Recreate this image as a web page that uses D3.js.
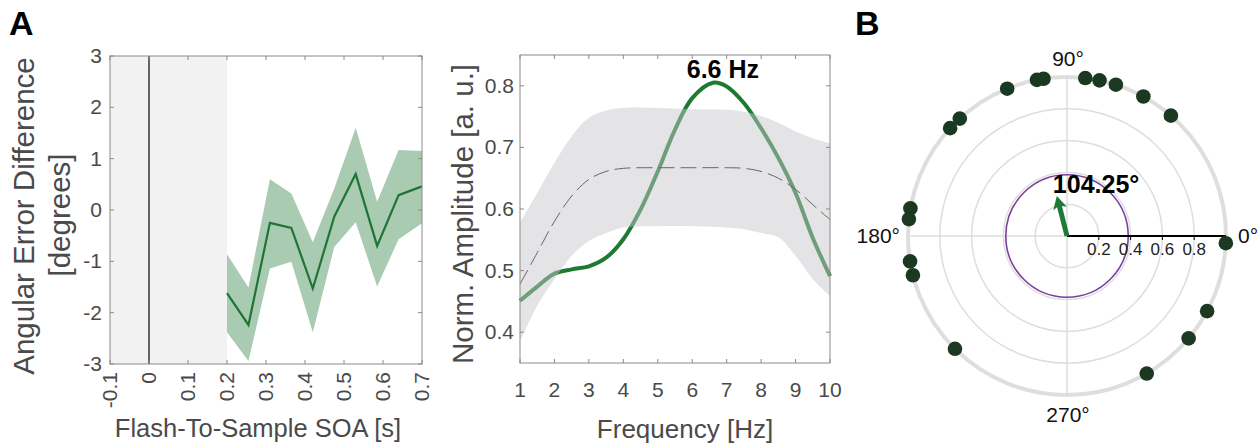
<!DOCTYPE html>
<html>
<head>
<meta charset="utf-8">
<script src="https://cdn.jsdelivr.net/npm/d3@7"></script>
<style>
  body { margin: 0; background: #fff; }
  svg { font-family: "Liberation Sans", Arial, sans-serif; }
</style>
</head>
<body>
<div id="chartContainer"></div>
<script>
// ---- panel A left: angular error difference by SOA
var soa = [0.2, 0.255, 0.31, 0.365, 0.42, 0.475, 0.53, 0.585, 0.64, 0.7];
var errMean = [-1.62, -2.24, -0.25, -0.35, -1.53, -0.13, 0.70, -0.70, 0.29, 0.46];
var errUpper = [-0.86, -1.51, 0.60, 0.32, -0.63, 0.42, 1.60, 0.16, 1.17, 1.15];
var errLower = [-2.38, -2.94, -1.14, -1.01, -2.38, -0.72, -0.24, -1.49, -0.57, -0.26];
var soaTicks = [-0.1, 0, 0.1, 0.2, 0.3, 0.4, 0.5, 0.6, 0.7];
var errTicks = [-3, -2, -1, 0, 1, 2, 3];

// ---- panel A right: amplitude spectrum
var freq = [1, 1.5, 2, 2.5, 3, 3.5, 4, 4.5, 5, 5.5, 6, 6.6, 7, 7.5, 8, 8.5, 9, 9.5, 10];
var ampData = [0.451, 0.474, 0.495, 0.502, 0.507, 0.521, 0.551, 0.599, 0.661, 0.729, 0.780, 0.805, 0.799, 0.772, 0.731, 0.683, 0.626, 0.553, 0.491];
var surrFreq = [1, 1.5, 2, 2.5, 3, 3.5, 4, 5, 6, 7, 7.5, 8, 8.5, 9, 9.5, 10];
var surrMean = [0.478, 0.529, 0.580, 0.621, 0.648, 0.661, 0.666, 0.667, 0.667, 0.667, 0.666, 0.661, 0.650, 0.632, 0.607, 0.583];
var surrUpper = [0.578, 0.626, 0.675, 0.718, 0.748, 0.760, 0.764, 0.764, 0.762, 0.761, 0.758, 0.751, 0.740, 0.726, 0.715, 0.707];
var surrLower = [0.385, 0.443, 0.486, 0.524, 0.548, 0.561, 0.570, 0.572, 0.572, 0.570, 0.567, 0.561, 0.554, 0.524, 0.486, 0.459];
var freqTicks = [1, 2, 3, 4, 5, 6, 7, 8, 9, 10];
var ampTicks = [0.4, 0.5, 0.6, 0.7, 0.8];
var peakFreq = 6.6;

// ---- panel B: phases
var phaseDeg = [49.2, 61.3, 72.1, 78.2, 83.4, 98.5, 100.9, 112.1, 132.4, 137.3, 170, 173.9, 189.2, 194.3, 225.2, 300.1, 319.9, 331.8, 357.4];
var meanPhase = 104.25;
var meanLength = 0.26;
var critRadius = 0.385;
var rTicks = [0.2, 0.4, 0.6, 0.8];
var ringTicks = [0.2, 0.4, 0.6, 0.8, 1.0];
var angleLabels = [0, 90, 180, 270];

var w = 1258, h = 448;
var textGray = "#4a4a4a";
var frameGray = "#8a8a8a";

var svg = d3.select("#chartContainer").append("svg")
    .attr("width", w)
    .attr("height", h);

// panel letters
svg.append("text").attr("x", 9).attr("y", 35).text("A")
    .attr("font-size", "34px").attr("font-weight", "bold").attr("fill", "#000");
svg.append("text").attr("x", 855).attr("y", 35).text("B")
    .attr("font-size", "34px").attr("font-weight", "bold").attr("fill", "#000");

// draws a MATLAB style box with inward ticks on all four sides
function drawBox(g, x, y, xt, yt) {
    var x0 = x.range()[0], x1 = x.range()[1];
    var y0 = y.range()[0], y1 = y.range()[1];
    g.append("rect")
        .attr("x", x0).attr("y", y1)
        .attr("width", x1 - x0).attr("height", y0 - y1)
        .attr("fill", "none").attr("stroke", frameGray).attr("stroke-width", 1);
    xt.forEach(function (t) {
        g.append("line").attr("x1", x(t)).attr("x2", x(t)).attr("y1", y0).attr("y2", y0 - 4)
            .attr("stroke", frameGray);
        g.append("line").attr("x1", x(t)).attr("x2", x(t)).attr("y1", y1).attr("y2", y1 + 4)
            .attr("stroke", frameGray);
    });
    yt.forEach(function (t) {
        g.append("line").attr("x1", x0).attr("x2", x0 + 4).attr("y1", y(t)).attr("y2", y(t))
            .attr("stroke", frameGray);
        g.append("line").attr("x1", x1).attr("x2", x1 - 4).attr("y1", y(t)).attr("y2", y(t))
            .attr("stroke", frameGray);
    });
}

// ================= Panel A left =================
var xA = d3.scaleLinear().domain([-0.1, 0.7]).range([110, 422]);
var yA = d3.scaleLinear().domain([-3, 3]).range([364, 56]);
var gA = svg.append("g");

// baseline (pre-flash) shading
gA.append("rect")
    .attr("x", xA(-0.1)).attr("y", yA(3))
    .attr("width", xA(0.2) - xA(-0.1)).attr("height", yA(-3) - yA(3))
    .attr("fill", "#f2f2f2");
gA.append("line")
    .attr("x1", xA(0)).attr("x2", xA(0)).attr("y1", yA(3)).attr("y2", yA(-3))
    .attr("stroke", "#000").attr("stroke-width", 1.2);

var errRows = soa.map(function (s, i) {
    return { x: s, m: errMean[i], lo: errLower[i], hi: errUpper[i] };
});
gA.append("path")
    .datum(errRows)
    .attr("fill", "#a9cbb2")
    .attr("d", d3.area()
        .x(function (d) { return xA(d.x); })
        .y0(function (d) { return yA(d.lo); })
        .y1(function (d) { return yA(d.hi); }));
gA.append("path")
    .datum(errRows)
    .attr("fill", "none")
    .attr("stroke", "#1f7535")
    .attr("stroke-width", 2.2)
    .attr("d", d3.line()
        .x(function (d) { return xA(d.x); })
        .y(function (d) { return yA(d.m); }));

drawBox(gA, xA, yA, soaTicks, errTicks);

gA.selectAll(".ylab").data(errTicks).enter().append("text")
    .attr("x", 102).attr("y", function (d) { return yA(d) + 7; })
    .attr("text-anchor", "end")
    .attr("font-size", "21px").attr("fill", textGray)
    .text(function (d) { return d; });
gA.selectAll(".xlab").data(soaTicks).enter().append("text")
    .attr("transform", function (d) { return "translate(" + (xA(d) + 7) + ",372) rotate(-90)"; })
    .attr("text-anchor", "end")
    .attr("font-size", "21px").attr("fill", textGray)
    .text(function (d) { return d; });

gA.append("text")
    .attr("x", 258).attr("y", 437)
    .attr("text-anchor", "middle")
    .attr("font-size", "25.5px").attr("fill", textGray)
    .text("Flash-To-Sample SOA [s]");
gA.append("text")
    .attr("transform", "translate(34,216) rotate(-90)")
    .attr("text-anchor", "middle")
    .attr("font-size", "29.5px").attr("fill", textGray)
    .text("Angular Error Difference");
gA.append("text")
    .attr("transform", "translate(70,215) rotate(-90)")
    .attr("text-anchor", "middle")
    .attr("font-size", "29.5px").attr("fill", textGray)
    .text("[degrees]");

// ================= Panel A right =================
var xF = d3.scaleLinear().domain([1, 10]).range([520, 830]);
var yF = d3.scaleLinear().domain([0.35, 0.85]).range([363, 55]);
var gF = svg.append("g");

var ampRows = freq.map(function (f, i) { return { f: f, a: ampData[i] }; });
var surrRows = surrFreq.map(function (f, i) {
    return { f: f, m: surrMean[i], lo: surrLower[i], hi: surrUpper[i] };
});

// data curve first, surrogate band drawn over it semi transparent
gF.append("path")
    .datum(ampRows)
    .attr("fill", "none")
    .attr("stroke", "#1d7a33")
    .attr("stroke-width", 4)
    .attr("d", d3.line().curve(d3.curveCatmullRom)
        .x(function (d) { return xF(d.f); })
        .y(function (d) { return yF(d.a); }));
gF.append("path")
    .datum(surrRows)
    .attr("fill", "#c6c7ca")
    .attr("fill-opacity", 0.48)
    .attr("d", d3.area().curve(d3.curveCatmullRom)
        .x(function (d) { return xF(d.f); })
        .y0(function (d) { return yF(d.lo); })
        .y1(function (d) { return yF(d.hi); }));
gF.append("path")
    .datum(surrRows)
    .attr("fill", "none")
    .attr("stroke", "#666")
    .attr("stroke-width", 1)
    .attr("stroke-dasharray", "16,6")
    .attr("d", d3.line().curve(d3.curveCatmullRom)
        .x(function (d) { return xF(d.f); })
        .y(function (d) { return yF(d.m); }));

drawBox(gF, xF, yF, freqTicks, ampTicks);

gF.selectAll(".ylab").data(ampTicks).enter().append("text")
    .attr("x", 514).attr("y", function (d) { return yF(d) + 7; })
    .attr("text-anchor", "end")
    .attr("font-size", "21px").attr("fill", textGray)
    .text(function (d) { return d.toFixed(1); });
gF.selectAll(".xlab").data(freqTicks).enter().append("text")
    .attr("x", function (d) { return xF(d); }).attr("y", 397)
    .attr("text-anchor", "middle")
    .attr("font-size", "21px").attr("fill", textGray)
    .text(function (d) { return d; });

gF.append("text")
    .attr("x", xF(peakFreq) + 10).attr("y", 78)
    .attr("text-anchor", "middle")
    .attr("font-size", "25px").attr("font-weight", "bold").attr("fill", "#000")
    .text(peakFreq + " Hz");

gF.append("text")
    .attr("x", 685).attr("y", 438)
    .attr("text-anchor", "middle")
    .attr("font-size", "26px").attr("fill", textGray)
    .text("Frequency [Hz]");
gF.append("text")
    .attr("transform", "translate(473,214) rotate(-90)")
    .attr("text-anchor", "middle")
    .attr("font-size", "29.5px").attr("fill", textGray)
    .text("Norm. Amplitude [a. u.]");

// ================= Panel B: polar =================
var cx = 1067, cy = 236;
var rS = d3.scaleLinear().domain([0, 1]).range([0, 159]);
var gB = svg.append("g").attr("transform", "translate(" + cx + "," + cy + ")");

function px(deg, r) { return rS(r) * Math.cos(deg * Math.PI / 180); }
function py(deg, r) { return -rS(r) * Math.sin(deg * Math.PI / 180); }

gB.append("line").attr("x1", -rS(1)).attr("x2", rS(1)).attr("y1", 0).attr("y2", 0)
    .attr("stroke", "#dedede").attr("stroke-width", 1.5);
gB.append("line").attr("x1", 0).attr("x2", 0).attr("y1", -rS(1)).attr("y2", rS(1))
    .attr("stroke", "#dedede").attr("stroke-width", 1.5);
gB.selectAll(".ring").data(ringTicks).enter().append("circle")
    .attr("r", function (d) { return rS(d); })
    .attr("fill", "none")
    .attr("stroke", "#dedede")
    .attr("stroke-width", function (d) { return d === 1 ? 4 : 1.5; });

gB.append("circle")
    .attr("r", rS(critRadius))
    .attr("fill", "none")
    .attr("stroke", "#7c3f9d")
    .attr("stroke-width", 1.6);

// radial axis along 0 deg
gB.append("line").attr("x1", 0).attr("x2", rS(1)).attr("y1", 0).attr("y2", 0)
    .attr("stroke", "#000").attr("stroke-width", 2);
gB.selectAll(".rtick").data(rTicks).enter().append("line")
    .attr("x1", function (d) { return rS(d); }).attr("x2", function (d) { return rS(d); })
    .attr("y1", 0).attr("y2", 4)
    .attr("stroke", "#000").attr("stroke-width", 1);
gB.selectAll(".rlab").data(rTicks).enter().append("text")
    .attr("x", function (d) { return rS(d); }).attr("y", 19)
    .attr("text-anchor", "middle")
    .attr("font-size", "17px").attr("fill", "#222")
    .text(function (d) { return d; });

// mean phase arrow
var arrowLen = rS(meanLength);
gB.append("g")
    .attr("transform", "rotate(" + (-meanPhase) + ")")
    .append("path")
    .attr("d", "M0,-2.5 L" + (arrowLen - 11) + ",-2.5 L" + (arrowLen - 13) + ",-7 L" + arrowLen + ",0 L" +
        (arrowLen - 13) + ",7 L" + (arrowLen - 11) + ",2.5 L0,2.5 Z")
    .attr("fill", "#1f7a3a");
gB.append("text")
    .attr("x", px(meanPhase, meanLength) - 4).attr("y", py(meanPhase, meanLength) - 3)
    .attr("font-size", "25px").attr("font-weight", "bold").attr("fill", "#000")
    .text(meanPhase + "°");

// phase dots
gB.selectAll(".dot").data(phaseDeg).enter().append("circle")
    .attr("cx", function (d) { return px(d, 1); })
    .attr("cy", function (d) { return py(d, 1); })
    .attr("r", 7.3)
    .attr("fill", "#1b3921");

// angle labels
var labelPos = {
    0: { x: rS(1) + 12, y: 7, a: "start" },
    90: { x: 1, y: -rS(1) - 11, a: "middle" },
    180: { x: -rS(1) - 8, y: 7, a: "end" },
    270: { x: 1, y: rS(1) + 27, a: "middle" }
};
gB.selectAll(".alab").data(angleLabels).enter().append("text")
    .attr("x", function (d) { return labelPos[d].x; })
    .attr("y", function (d) { return labelPos[d].y; })
    .attr("text-anchor", function (d) { return labelPos[d].a; })
    .attr("font-size", "21px").attr("fill", "#111")
    .text(function (d) { return d + "°"; });
</script>
</body>
</html>
